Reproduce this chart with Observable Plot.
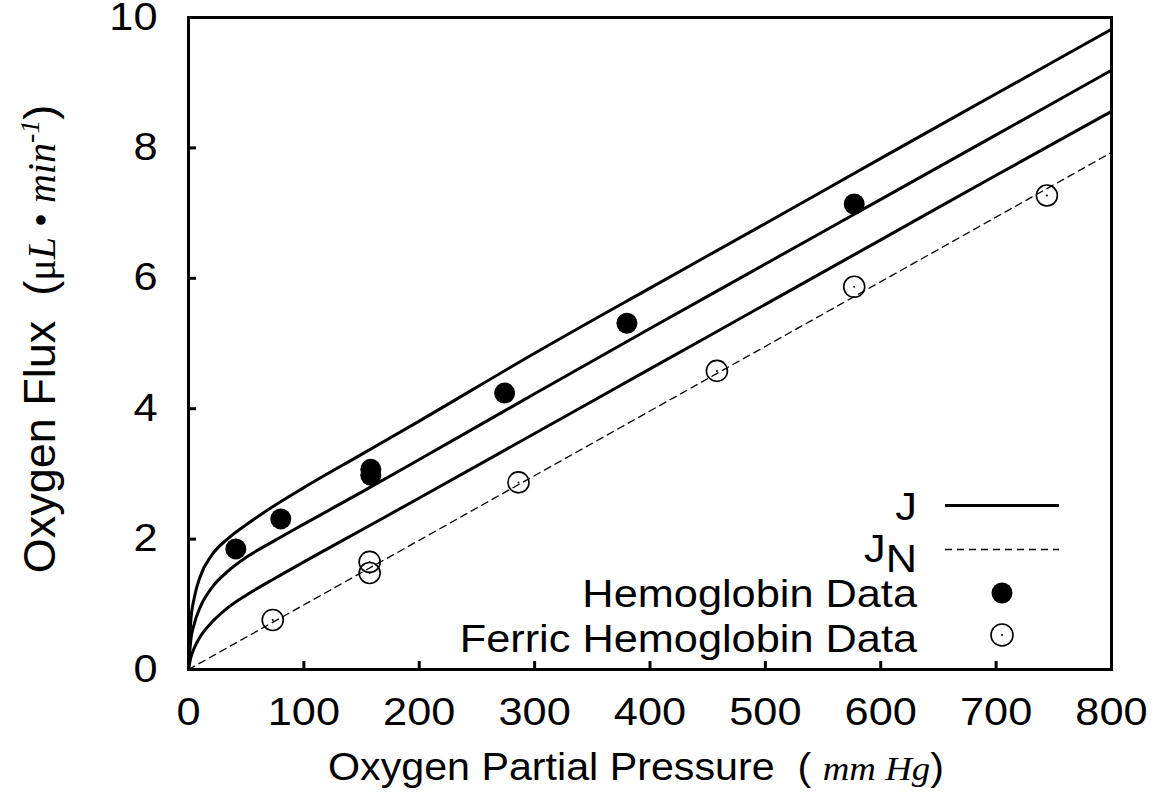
<!DOCTYPE html>
<html><head><meta charset="utf-8">
<script src="https://cdn.jsdelivr.net/npm/d3@7"></script>
<script src="https://cdn.jsdelivr.net/npm/@observablehq/plot@0.6"></script>
<style>body{margin:0;background:#fff} svg{display:block}</style>
</head><body><div id="chart"></div>
<script>
// ---- data ----
const pressure   = [0, 2, 5, 10, 20, 35, 50, 75, 100, 150, 200, 300, 400, 500, 600, 700, 800];
const fluxUpper  = [0, 0.75, 1.10, 1.42, 1.75, 2.02, 2.22, 2.52, 2.79, 3.30, 3.81, 4.85, 5.85, 6.84, 7.84, 8.83, 9.82];
const fluxMiddle = [0, 0.45, 0.70, 0.95, 1.25, 1.52, 1.72, 1.98, 2.23, 2.72, 3.22, 4.23, 5.23, 6.22, 7.21, 8.20, 9.19];
const fluxLower  = [0, 0.18, 0.33, 0.50, 0.72, 0.96, 1.14, 1.40, 1.65, 2.14, 2.63, 3.62, 4.61, 5.60, 6.59, 7.58, 8.56];
const nonFacP = [0, 800];
const nonFacJ = [0, 7.93];
const hbP = [41, 80, 158, 158, 274, 380, 577];
const hbJ = [1.85, 2.31, 3.07, 2.98, 4.24, 5.31, 7.14];
const ferricP = [73, 157, 157, 286, 458, 577, 744];
const ferricJ = [0.76, 1.65, 1.48, 2.87, 4.58, 5.87, 7.27];
const xTicks = [0, 100, 200, 300, 400, 500, 600, 700, 800];
const yTicks = [0, 2, 4, 6, 8, 10];
const legendLabels = ["J", "J", "Hemoglobin Data", "Ferric Hemoglobin Data"];

const curve = (ys) => pressure.map((p, i) => ({p, j: ys[i]}));
const hb = hbP.map((p, i) => ({p, j: hbJ[i]}));
const ferric = ferricP.map((p, i) => ({p, j: ferricJ[i]}));
const nonFac = nonFacP.map((p, i) => ({p, j: nonFacJ[i]}));

const W = 1166, H = 804, mL = 188, mR = 55, mT = 17, mB = 135;
const SANS = "'Liberation Sans', Arial, Helvetica, sans-serif";
const SERIF = "'Liberation Serif', 'Times New Roman', serif";
const STRETCH = 1.14;

const plot = Plot.plot({
  width: W, height: H,
  marginLeft: mL, marginRight: mR, marginTop: mT, marginBottom: mB,
  x: {domain: [0, 800]},
  y: {domain: [0, 10]},
  style: {fontFamily: SANS, fontSize: "38px", color: "black", background: "white"},
  marks: [
    Plot.line(curve(fluxUpper), {x: "p", y: "j", curve: "monotone-x", stroke: "black", strokeWidth: 3}),
    Plot.line(curve(fluxMiddle), {x: "p", y: "j", curve: "monotone-x", stroke: "black", strokeWidth: 3}),
    Plot.line(curve(fluxLower), {x: "p", y: "j", curve: "monotone-x", stroke: "black", strokeWidth: 3}),
    Plot.line(nonFac, {x: "p", y: "j", stroke: "black", strokeWidth: 1.3, strokeDasharray: "7,5"}),
    Plot.dot(hb, {x: "p", y: "j", r: 10.5, fill: "black", stroke: "none"}),
    Plot.dot(ferric, {x: "p", y: "j", r: 10.5, fill: "none", stroke: "black", strokeWidth: 1.6}),
    Plot.dot(ferric, {x: "p", y: "j", r: 1, fill: "black", stroke: "none"}),
    Plot.frame({stroke: "black", strokeWidth: 3}),
    Plot.tickX(xTicks, {x: d => d, insetTop: (H - mT - mB) - 8, stroke: "black", strokeWidth: 3}),
    Plot.tickY(yTicks, {y: d => d, insetRight: (W - mL - mR) - 8, stroke: "black", strokeWidth: 3}),
    Plot.axisX(xTicks, {tickSize: 0, tickPadding: 29, fontSize: 38, tickFormat: d => String(d), label: null}),
    Plot.axisY(yTicks, {tickSize: 0, tickPadding: 31, fontSize: 38, tickFormat: d => String(d), label: null})
  ]
});
document.getElementById("chart").appendChild(plot);

const svg = d3.select(plot);

// widen the tick labels horizontally, as in the reference (wrap each in a scaled group)
function stretchText(el, s, anchor) {
  const parent = el.parentNode;
  const r = el.getBoundingClientRect();
  const ctm = parent.getScreenCTM();
  if (!ctm) return;
  const pt = plot.createSVGPoint();
  pt.x = anchor === "end" ? r.right : (r.left + r.right) / 2;
  pt.y = (r.top + r.bottom) / 2;
  const p = pt.matrixTransform(ctm.inverse());
  const g = document.createElementNS("http://www.w3.org/2000/svg", "g");
  g.setAttribute("transform", `translate(${p.x},0) scale(${s},1) translate(${-p.x},0)`);
  parent.insertBefore(g, el);
  g.appendChild(el);
}
svg.selectAll('g[aria-label="x-axis tick label"] text').nodes().forEach(el => stretchText(el, STRETCH, "middle"));
svg.selectAll('g[aria-label="y-axis tick label"] text').nodes().forEach(el => stretchText(el, STRETCH, "end"));

// x-axis title
const xt = svg.append("text")
  .attr("transform", `translate(636,780) scale(1.085,1)`).attr("text-anchor", "middle")
  .attr("font-family", SANS).attr("font-size", 38).attr("fill", "black")
  .style("white-space", "pre");
xt.append("tspan").text("Oxygen Partial Pressure  ( ");
xt.append("tspan").attr("font-family", SERIF).attr("font-style", "italic").attr("font-size", 34).text("mm Hg");
xt.append("tspan").text(")");

// y-axis title
const yt = svg.append("text")
  .attr("transform", "translate(55,339) rotate(-90)").attr("text-anchor", "middle")
  .attr("font-family", SANS).attr("font-size", 45).attr("fill", "black")
  .style("white-space", "pre");
yt.append("tspan").text("Oxygen Flux  (");
yt.append("tspan").attr("font-family", SERIF).attr("font-size", 40).text("μ");
yt.append("tspan").attr("font-family", SERIF).attr("font-style", "italic").attr("font-size", 40).text("L");
yt.append("tspan").attr("font-family", SERIF).attr("font-size", 40).text(" • ");
yt.append("tspan").attr("font-family", SERIF).attr("font-style", "italic").attr("font-size", 40).text("min");
yt.append("tspan").attr("font-family", SERIF).attr("font-style", "italic").attr("font-size", 28).attr("dy", -16).text("-1");
yt.append("tspan").attr("dy", 16).text(")");

// legend
const lg = svg.append("g").attr("font-family", SANS).attr("font-size", 38).attr("fill", "black");
const lx = 917;
const ltext = (y) => lg.append("text").attr("transform", `translate(${lx},${y}) scale(${STRETCH},1)`).attr("text-anchor", "end");
ltext(520).text(legendLabels[0]);
const jn = ltext(562);
jn.append("tspan").text(legendLabels[1]);
jn.append("tspan").attr("dy", 10).text("N");
ltext(607).text(legendLabels[2]);
ltext(652).text(legendLabels[3]);
lg.append("line").attr("x1", 945).attr("x2", 1059).attr("y1", 505.5).attr("y2", 505.5).attr("stroke", "black").attr("stroke-width", 3);
lg.append("line").attr("x1", 945).attr("x2", 1059).attr("y1", 549.5).attr("y2", 549.5).attr("stroke", "black").attr("stroke-width", 1.3).attr("stroke-dasharray", "7,5");
lg.append("circle").attr("cx", 1002).attr("cy", 593).attr("r", 10.5).attr("fill", "black");
lg.append("circle").attr("cx", 1002).attr("cy", 635).attr("r", 11).attr("fill", "none").attr("stroke", "black").attr("stroke-width", 1.6);
lg.append("circle").attr("cx", 1002).attr("cy", 635).attr("r", 1).attr("fill", "black");
</script>
</body></html>
